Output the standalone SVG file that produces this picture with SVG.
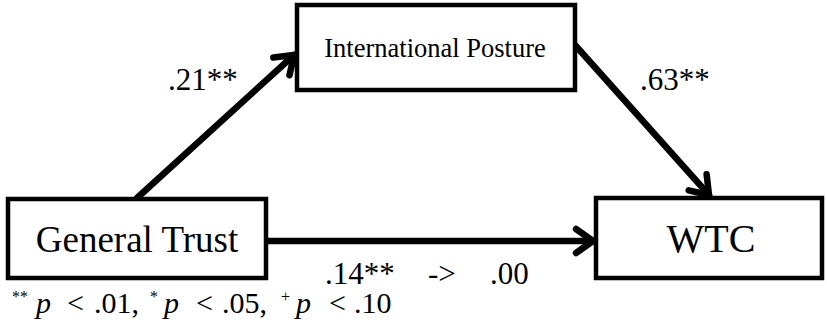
<svg xmlns="http://www.w3.org/2000/svg" width="827" height="329" viewBox="0 0 827 329">
<defs>
<style>
.box{fill:#fff;stroke:#000;stroke-width:4.5}
.t{font-family:"Liberation Serif","Tinos","DejaVu Serif","Noto Serif",serif;fill:#000}
.conn{stroke:#000;stroke-width:6.5;fill:none;stroke-linecap:round}
.sup{font-size:16px}
.fn{font-size:30px}
.i{font-style:italic}
.lab{font-size:31px}
</style>
<marker id="ah" markerUnits="userSpaceOnUse" viewBox="-2 -2 26 32" markerWidth="26" markerHeight="32" refX="19" refY="14" orient="auto" overflow="visible">
<path d="M2,2 L19,14 L2,26" fill="none" stroke="#000" stroke-width="6.5" stroke-linecap="round" stroke-linejoin="round"/>
</marker>
</defs>
<rect width="827" height="329" fill="#fff"/>
<g id="connectors">
<line class="conn" x1="137" y1="198" x2="294" y2="55" marker-end="url(#ah)"/>
<line class="conn" x1="575" y1="45" x2="709" y2="195" marker-end="url(#ah)"/>
<line class="conn" x1="266" y1="241" x2="593" y2="241" marker-end="url(#ah)"/>
</g>
<g id="general-trust">
<rect class="box" x="8" y="199" width="258" height="79"/>
<text class="t" x="137" y="252" font-size="37" text-anchor="middle">General Trust</text>
</g>
<g id="international-posture">
<rect class="box" x="297" y="5" width="278" height="85"/>
<text class="t" x="435" y="57" font-size="26.5" text-anchor="middle">International Posture</text>
</g>
<g id="wtc">
<rect class="box" x="596" y="198" width="226" height="80"/>
<text class="t" x="711" y="252" font-size="40" text-anchor="middle">WTC</text>
</g>
<g id="labels">
<text class="t lab" x="168" y="90">.21**</text>
<text class="t lab" x="640" y="90">.63**</text>
<text class="t lab" x="325" y="284">.14**</text>
<text class="t lab" x="428" y="284">-&gt;</text>
<text class="t lab" x="490" y="284">.00</text>
</g>
<g id="footnote" class="t">
<text class="sup" x="12" y="302">**</text>
<text class="fn i" x="36" y="313">p</text>
<text class="fn" x="67" y="313">&lt;</text>
<text class="fn" x="94" y="313">.01,</text>
<text class="sup" x="150" y="302">*</text>
<text class="fn i" x="164" y="313">p</text>
<text class="fn" x="196" y="313">&lt;</text>
<text class="fn" x="222" y="313">.05,</text>
<text class="sup" x="281" y="302">+</text>
<text class="fn i" x="296" y="313">p</text>
<text class="fn" x="329" y="313">&lt;</text>
<text class="fn" x="354" y="313">.10</text>
</g>
</svg>
